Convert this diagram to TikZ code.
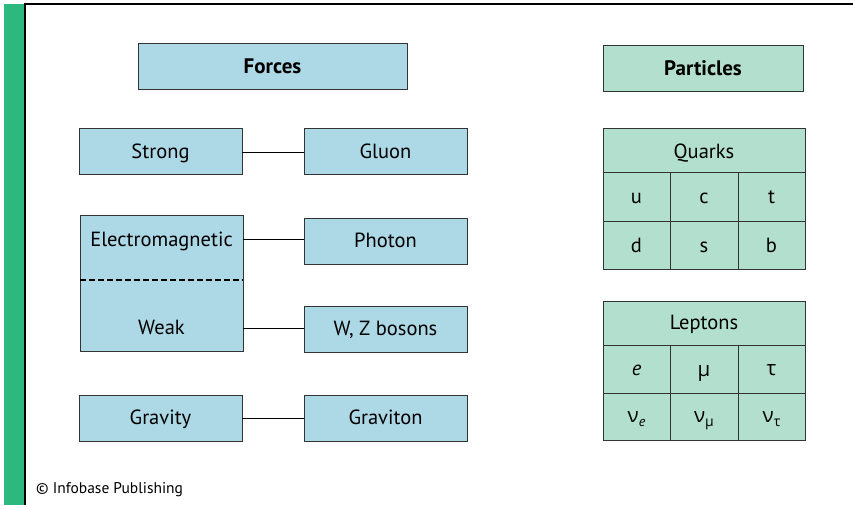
\documentclass[tikz,border=0pt]{standalone}
\usepackage{fontspec}
\setmainfont{PT Sans}
\newfontfamily\grk{Open Sans}
\definecolor{fblue}{HTML}{ADD8E6}
\definecolor{fgreen}{HTML}{B2DFCE}
\definecolor{fbar}{HTML}{2DB87F}
\definecolor{edge}{HTML}{333333}
\begin{document}
\begin{tikzpicture}[x=1pt,y=-1pt,
  bbox/.style={draw=edge,line width=1pt,fill=fblue},
  gbox/.style={draw=edge,line width=1pt,fill=fgreen},
  lbl/.style={font=\fontsize{20.5}{24}\selectfont,inner sep=0pt,text height=14pt,text depth=4pt,yshift=-1.5pt},
  blbl/.style={font=\fontsize{21}{24}\selectfont\bfseries,inner sep=0pt,text height=14pt,text depth=4pt,yshift=-1.5pt},
  link/.style={draw=black,line width=1pt}]
\useasboundingbox (0,0) rectangle (853,505);
\fill[white] (0,0) rectangle (853,505);
\fill[fbar] (4,4) rectangle (24.5,505);
\draw[line width=1.2pt] (25,505) -- (25,4) -- (853,4);
% Forces side
\draw[bbox] (138,44) rectangle (407,90);
\node[blbl] (forces) at (272.5,67) {Forces};
\draw[bbox] (79,129) rectangle (242,175);
\node[lbl] (strong) at (160.5,152) {Strong};
\draw[bbox] (304,129) rectangle (467,175);
\node[lbl] (gluon) at (385.5,152) {Gluon};
\draw[bbox] (80,215) rectangle (243,351);
\draw[line width=1.7pt,dash pattern=on 5.5pt off 3.5pt] (80,280) -- (243,280);
\node[lbl] (em) at (161.5,240) {Electromagnetic};
\node[lbl] (weak) at (161.5,328) {Weak};
\draw[bbox] (304,218) rectangle (467,264);
\node[lbl] (photon) at (385.5,241) {Photon};
\draw[bbox] (304,306) rectangle (467,352);
\node[lbl] (wz) at (385.5,329) {W, Z bosons};
\draw[bbox] (79,395) rectangle (242,441);
\node[lbl] (gravity) at (160.5,418) {Gravity};
\draw[bbox] (304,395) rectangle (467,441);
\node[lbl] (graviton) at (385.5,418) {Graviton};
\coordinate (s1) at (242,153); \coordinate (s2) at (304,153);
\coordinate (e1) at (243,239); \coordinate (e2) at (304,239);
\coordinate (w1) at (243,328); \coordinate (w2) at (304,328);
\coordinate (g1) at (242,418); \coordinate (g2) at (304,418);
\draw[link] (s1) -- (s2);
\draw[link] (e1) -- (e2);
\draw[link] (w1) -- (w2);
\draw[link] (g1) -- (g2);
% Particles side
\draw[gbox] (603,46) rectangle (803,92);
\node[blbl] (particles) at (703,69) {Particles};
\draw[gbox] (603,129) rectangle (805,269);
\draw[line width=1pt,draw=edge] (603,173) -- (805,173) (603,221) -- (805,221) (670,173) -- (670,269) (738,173) -- (738,269);
\node[lbl] (quarks) at (704,152) {Quarks};
\node[lbl] (u) at (636.5,197) {u};
\node[lbl] (c) at (704,197) {c};
\node[lbl] (t) at (771.5,197) {t};
\node[lbl] (d) at (636.5,246) {d};
\node[lbl] (s) at (704,246) {s};
\node[lbl] (b) at (771.5,246) {b};
\draw[gbox] (603,301) rectangle (805,440);
\draw[line width=1pt,draw=edge] (603,345) -- (805,345) (603,393) -- (805,393) (670,345) -- (670,440) (738,345) -- (738,440);
\node[lbl] (leptons) at (704,323) {Leptons};
\node[lbl] (e) at (636.5,369) {\itshape e};
\node[lbl] (mu) at (704,370) {\grk μ};
\node[lbl] (tau) at (771.5,369) {\grk τ};
\node[lbl] (nue) at (636.5,416) {\grk ν\raisebox{-4pt}{\fontsize{14}{16}\selectfont\rmfamily\itshape e}};
\node[lbl] (numu) at (704,416) {\grk ν\raisebox{-4pt}{\fontsize{14}{16}\selectfont μ}};
\node[lbl] (nutau) at (771.5,416) {\grk ν\raisebox{-4pt}{\fontsize{14}{16}\selectfont τ}};
\node[font=\fontsize{15.5}{18}\selectfont,anchor=west,inner sep=0pt] (copy) at (36,490) {© Infobase Publishing};
\end{tikzpicture}
\end{document}
